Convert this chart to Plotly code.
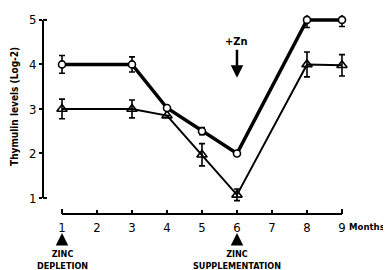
import plotly.graph_objects as go

months = [1, 3, 4, 5, 6, 8, 9]
circle_vals = [4.0, 4.0, 3.02, 2.5, 2.0, 5.0, 5.0]
circle_err = [0.2, 0.17, 0.0, 0.08, 0.05, 0.17, 0.15]
tri_vals = [3.0, 3.0, 2.85, 1.97, 1.07, 4.0, 3.98]
tri_err = [0.22, 0.2, 0.0, 0.25, 0.13, 0.28, 0.24]
x_ticks = [1, 2, 3, 4, 5, 6, 7, 8, 9]
y_ticks = [1, 2, 3, 4, 5]

FONT = "DejaVu Sans Condensed"

fig = go.Figure()
fig.add_trace(go.Scatter(
    x=months, y=tri_vals, mode="lines+markers",
    line=dict(color="black", width=2),
    marker=dict(symbol="triangle-up-open", size=9, color="black", line=dict(width=1.6)),
    error_y=dict(type="data", array=tri_err, color="black", thickness=1.6, width=3),
    showlegend=False,
))
fig.add_trace(go.Scatter(
    x=months, y=circle_vals, mode="lines+markers",
    line=dict(color="black", width=3.5),
    marker=dict(symbol="circle", size=7, color="white", line=dict(color="black", width=1.6)),
    error_y=dict(type="data", array=circle_err, color="black", thickness=1.6, width=3),
    showlegend=False,
))

# axis guides
fig.add_shape(type="line", xref="paper", yref="y", x0=0, x1=0, y0=1, y1=5,
              line=dict(color="black", width=2))
fig.add_shape(type="line", xref="paper", yref="y", x0=0, x1=0.013, y0=5, y1=5,
              line=dict(color="black", width=2))
fig.add_shape(type="line", xref="paper", yref="y", x0=0, x1=0.013, y0=1, y1=1,
              line=dict(color="black", width=2))
fig.add_shape(type="line", xref="x", yref="paper", x0=1, x1=9, y0=0, y1=0,
              line=dict(color="black", width=2))
fig.add_shape(type="line", xref="x", yref="paper", x0=1, x1=1, y0=0, y1=0.025,
              line=dict(color="black", width=2))
fig.add_shape(type="line", xref="x", yref="paper", x0=9, x1=9, y0=0, y1=0.025,
              line=dict(color="black", width=2))

tf = dict(family=FONT, size=13, color="black")
fig.update_layout(
    width=383, height=262,
    margin=dict(l=35, r=41, t=7, b=56, autoexpand=False),
    paper_bgcolor="white", plot_bgcolor="white",
    xaxis=dict(range=[0.457, 9.229], tickvals=x_ticks, ticktext=[str(v) for v in x_ticks],
               showgrid=False, zeroline=False, showline=False,
               ticks="inside", ticklen=4, tickwidth=1.5, tickcolor="black",
               tickfont=tf, automargin=False, ticklabelstandoff=4),
    yaxis=dict(range=[0.64, 5.11], tickvals=y_ticks, ticktext=[str(v) for v in y_ticks],
               showgrid=False, zeroline=False, showline=False,
               ticks="outside", ticklen=3, tickwidth=1.5, tickcolor="black",
               tickfont=tf, automargin=False),
    font=dict(family=FONT, color="black"),
)

bold = lambda s: "<b>" + s + "</b>"
ann = []
ann.append(dict(x=-0.091, y=0.538, xref="paper", yref="paper", xanchor="center", yanchor="middle",
                text=bold("Thymulin levels (Log-2)"),
                textangle=-90, showarrow=False, font=dict(family=FONT, size=10)))
ann.append(dict(x=0.99, y=-0.065, xref="paper", yref="paper", xanchor="left", yanchor="middle",
                text=bold("Months"), showarrow=False, font=dict(family=FONT, size=9.5)))
ann.append(dict(x=6, y=3.70, xref="x", yref="y", text=bold("+Zn"), showarrow=True,
                ax=0, ay=-36, arrowhead=2, arrowsize=1, arrowwidth=2.5, arrowcolor="black",
                font=dict(family=FONT, size=11)))
for xv, label in [(1, "ZINC<br>DEPLETION"), (6, "ZINC<br>SUPPLEMENTATION")]:
    ann.append(dict(x=xv, y=-0.095, xref="x", yref="paper", text="", showarrow=True,
                    ax=0, ay=12, arrowhead=2, arrowsize=1, arrowwidth=2.5, arrowcolor="black"))
    ann.append(dict(x=xv, y=-0.167, xref="x", yref="paper", yanchor="top", text=bold(label),
                    showarrow=False, font=dict(family=FONT, size=9), align="center"))
fig.update_layout(annotations=ann)

fig.write_html("out.html")
